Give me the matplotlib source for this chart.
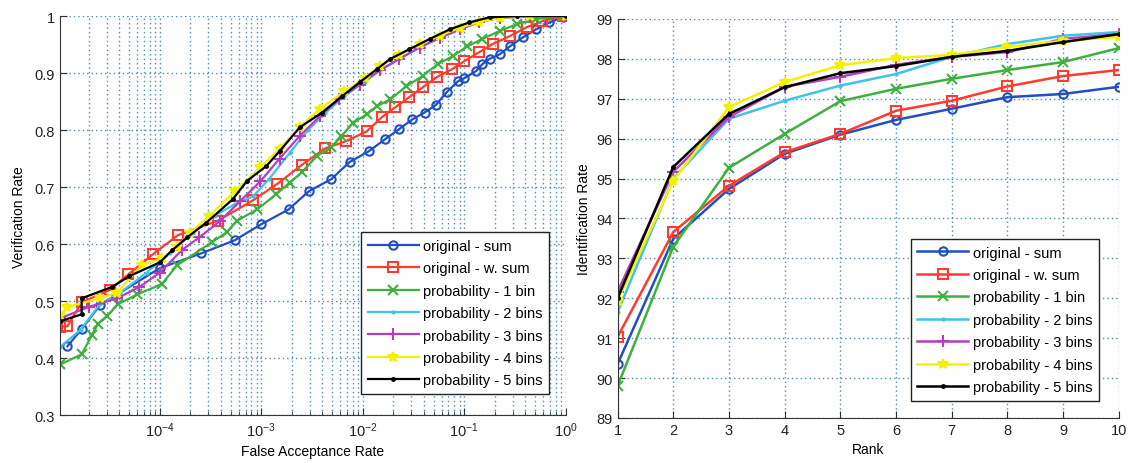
import numpy as np
import matplotlib
matplotlib.use('Agg')
from matplotlib import pyplot as plt

plt.rcParams['font.family'] = ['Liberation Sans', 'DejaVu Sans']
plt.rcParams['font.size'] = 10

labels = ['original - sum', 'original - w. sum', 'probability - 1 bin', 'probability - 2 bins',
          'probability - 3 bins', 'probability - 4 bins', 'probability - 5 bins']
colors = ['#1f4fc0', '#ff3b2f', '#3db13d', '#3fc3e6', '#b23fc0', '#f2f200', '#000000']
markers = ['o', 's', 'x', '.', '+', '*', '.']

# verification curves: log10(FAR) and verification rate
sum_lf = [-4.91, -4.77, -4.59, -4.00, -3.59, -3.26, -3.00, -2.73, -2.53, -2.31, -2.13, -1.94, -1.78,
          -1.64, -1.51, -1.39, -1.28, -1.17, -1.06, -1.00, -0.88, -0.82, -0.75, -0.65, -0.55, -0.42,
          -0.29, -0.16, -0.03]
sum_vr = [0.421, 0.451, 0.493, 0.558, 0.584, 0.607, 0.635, 0.661, 0.693, 0.714, 0.744, 0.763, 0.784,
          0.802, 0.819, 0.831, 0.844, 0.867, 0.886, 0.891, 0.904, 0.916, 0.925, 0.933, 0.947, 0.963,
          0.977, 0.989, 0.998]
wsum_lf = [-4.98, -4.91, -4.77, -4.49, -4.31, -4.07, -3.82, -3.43, -3.08, -2.84, -2.60, -2.37, -2.16,
           -1.96, -1.81, -1.68, -1.54, -1.41, -1.27, -1.12, -1.00, -0.85, -0.72, -0.55, -0.38, -0.23,
           -0.03]
wsum_vr = [0.455, 0.456, 0.498, 0.520, 0.547, 0.582, 0.616, 0.641, 0.677, 0.706, 0.739, 0.768, 0.781,
           0.798, 0.823, 0.840, 0.858, 0.875, 0.893, 0.907, 0.921, 0.937, 0.951, 0.965, 0.981, 0.991,
           1.000]
bin1_lf = [-4.98, -4.77, -4.67, -4.61, -4.52, -4.41, -4.22, -3.98, -3.83, -3.49, -3.34, -3.24, -3.04,
           -2.85, -2.72, -2.60, -2.45, -2.31, -2.21, -2.10, -1.96, -1.86, -1.73, -1.57, -1.41, -1.26,
           -1.11, -0.97, -0.82, -0.65, -0.48, -0.29, -0.03]
bin1_vr = [0.389, 0.407, 0.440, 0.460, 0.474, 0.495, 0.512, 0.530, 0.563, 0.603, 0.621, 0.641, 0.661,
           0.688, 0.708, 0.726, 0.755, 0.770, 0.789, 0.812, 0.828, 0.842, 0.854, 0.877, 0.895, 0.916,
           0.930, 0.947, 0.960, 0.974, 0.986, 0.995, 1.000]
bin2_lf = [-4.98, -4.78, -4.59, -4.39, -4.13, -3.90, -3.67, -3.46, -3.26, -3.08, -2.92, -2.72, -2.54,
           -2.37, -2.18, -1.98, -1.83, -1.64, -1.44, -1.24, -1.04, -0.85, -0.65, -0.35, 0.0]
bin2_vr = [0.420, 0.450, 0.495, 0.515, 0.550, 0.585, 0.620, 0.650, 0.670, 0.684, 0.715, 0.760, 0.800,
           0.830, 0.860, 0.885, 0.905, 0.925, 0.945, 0.962, 0.977, 0.990, 0.997, 1.000, 1.000]
bin3_lf = [-4.98, -4.70, -4.42, -4.20, -4.00, -3.78, -3.61, -3.41, -3.21, -3.01, -2.82, -2.62, -2.42,
           -2.23, -2.03, -1.83, -1.64, -1.44, -1.24, -1.04, -0.85, -0.65, -0.35, 0.0]
bin3_vr = [0.470, 0.490, 0.505, 0.525, 0.550, 0.590, 0.612, 0.640, 0.675, 0.710, 0.750, 0.790, 0.825,
           0.855, 0.880, 0.905, 0.925, 0.945, 0.962, 0.977, 0.990, 0.997, 1.000, 1.000]
bin4_lf = [-4.98, -4.91, -4.59, -4.42, -4.18, -3.98, -3.83, -3.70, -3.51, -3.26, -3.01, -2.82, -2.62,
           -2.42, -2.18, -1.98, -1.83, -1.64, -1.44, -1.24, -1.04, -0.85, -0.65, -0.35, 0.0]
bin4_vr = [0.475, 0.490, 0.505, 0.515, 0.563, 0.575, 0.595, 0.620, 0.650, 0.693, 0.735, 0.767, 0.805,
           0.838, 0.868, 0.892, 0.912, 0.932, 0.951, 0.966, 0.980, 0.990, 0.997, 1.000, 1.000]
bin5_lf = [-4.98, -4.77, -4.77, -4.47, -4.30, -4.00, -3.88, -3.73, -3.54, -3.28, -3.14, -2.95, -2.82,
           -2.62, -2.40, -2.20, -2.03, -1.86, -1.73, -1.54, -1.34, -1.14, -0.95, -0.75, -0.48, 0.0]
bin5_vr = [0.465, 0.477, 0.505, 0.525, 0.544, 0.568, 0.589, 0.612, 0.638, 0.679, 0.711, 0.737, 0.763,
           0.805, 0.831, 0.860, 0.884, 0.907, 0.925, 0.942, 0.960, 0.977, 0.989, 0.998, 1.000, 1.000]

# identification rates per rank
ranks = list(range(1, 11))
id_sum = [90.35, 93.49, 94.74, 95.62, 96.10, 96.47, 96.75, 97.04, 97.12, 97.30]
id_wsum = [91.03, 93.66, 94.82, 95.66, 96.12, 96.70, 96.95, 97.31, 97.57, 97.72]
id_bin1 = [89.80, 93.29, 95.27, 96.12, 96.94, 97.25, 97.50, 97.72, 97.92, 98.27]
id_bin2 = [91.65, 95.00, 96.50, 96.95, 97.33, 97.62, 98.05, 98.37, 98.58, 98.67]
id_bin3 = [92.16, 95.17, 96.54, 97.30, 97.55, 97.85, 98.05, 98.17, 98.50, 98.62]
id_bin4 = [91.94, 94.94, 96.79, 97.42, 97.84, 98.02, 98.10, 98.30, 98.45, 98.55]
id_bin5 = [92.00, 95.29, 96.62, 97.29, 97.64, 97.82, 98.05, 98.20, 98.42, 98.62]

roc = [(sum_lf, sum_vr), (wsum_lf, wsum_vr), (bin1_lf, bin1_vr), (bin2_lf, bin2_vr),
       (bin3_lf, bin3_vr), (bin4_lf, bin4_vr), (bin5_lf, bin5_vr)]
cmc = [id_sum, id_wsum, id_bin1, id_bin2, id_bin3, id_bin4, id_bin5]
msizes = [6, 7, 7, 3, 8, 7, 4]

grid_kw = dict(color='#4a8db2', linestyle=(0, (1, 2.2)), linewidth=1.0)

fig = plt.figure(figsize=(11.29, 4.64), dpi=100)
ax1 = fig.add_axes([0.053, 0.103, 0.448, 0.860])
ax2 = fig.add_axes([0.547, 0.097, 0.444, 0.860])

for (lf, vr), c, m, ms, lab in zip(roc, colors, markers, msizes, labels):
    ax1.semilogx(10.0 ** np.array(lf), vr, '-', color=c, marker=m, ms=ms, mfc='none' if m in 'os' else c,
                 mew=1.5, lw=1.6, label=lab)
for ir, c, m, ms, lab in zip(cmc, colors, markers, msizes, labels):
    ax2.plot(ranks, ir, '-', color=c, marker=m, ms=ms, mfc='none' if m in 'os' else c,
             mew=1.5, lw=1.8, label=lab)

ax1.set_xlim(10 ** -4.985, 1)
ax1.set_ylim(0.3, 1)
ax1.set_yticks(np.arange(0.3, 1.01, 0.1))
ax1.set_yticklabels(['0.3', '0.4', '0.5', '0.6', '0.7', '0.8', '0.9', '1'])
ax1.grid(which='both', axis='x', **grid_kw)
ax1.grid(which='major', axis='y', **grid_kw)
ax1.set_xlabel('False Acceptance Rate')
ax1.set_ylabel('Verification Rate', labelpad=6)

ax2.set_xlim(1, 10)
ax2.set_ylim(89, 99)
ax2.set_xticks(ranks)
ax2.set_yticks(range(89, 100))
ax2.grid(which='major', **grid_kw)
ax2.set_xlabel('Rank')
ax2.set_ylabel('Identification Rate')

for ax, anchor in ((ax1, (0.968, 0.053)), (ax2, (0.96, 0.043))):
    ax.spines['top'].set_visible(False)
    ax.spines['right'].set_visible(False)
    ax.spines['left'].set_color('#333333')
    ax.spines['bottom'].set_color('#333333')
    ax.tick_params(which='both', direction='in', colors='#333333', labelcolor='#222222', labelsize=10.5)
    ax.tick_params(which='major', length=5)
    ax.tick_params(which='minor', length=3)
    ax.set_axisbelow(True)
    leg = ax.legend(loc='lower right', bbox_to_anchor=anchor, borderaxespad=0, fancybox=False,
                    edgecolor='#222222', framealpha=1, handlelength=3.5, handletextpad=0.3,
                    labelspacing=0.58, borderpad=0.45, fontsize=10.5)
    leg.get_frame().set_linewidth(1.0)

fig.savefig('out.png', dpi=100)
